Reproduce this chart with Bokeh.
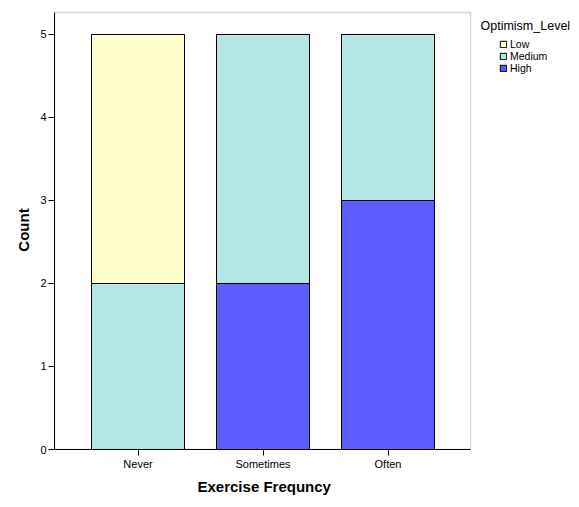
from bokeh.plotting import figure
from bokeh.models import (Range1d, FixedTicker, Legend, LegendItem, ColumnDataSource,
                          Label, BoxAnnotation, Title)
from bokeh.embed import file_html
from bokeh.resources import INLINE

# counts per exercise group, stacked bottom -> top: High, Medium, Low
categories = ["Never", "Sometimes", "Often"]
high = [0, 2, 3]
medium = [2, 3, 2]
low = [3, 0, 0]
y_ticks = [0, 1, 2, 3, 4, 5]

FONT = "Liberation Sans"
stack_order = ["High", "Medium", "Low"]
colors = ["#5c5cff", "#b4e6e6", "#ffffcc"]

positions = list(range(1, len(categories) + 1))
source = ColumnDataSource(data=dict(x=positions, High=high, Medium=medium, Low=low))

# the bar box is 416px wide (125px per category); the frame runs on to the page edge
# so the legend and its title can sit inside it without being clipped
x_lo, x_hi = 0.332, 3.66
y_top = 5.265
px_per_x = 125.0
px_per_y = 83.0

p = figure(
    frame_width=525, frame_height=439,
    min_border_left=54, min_border_top=10, min_border_bottom=20, min_border_right=0,
    x_range=Range1d(x_lo, x_lo + 525 / px_per_x),
    y_range=Range1d(0, y_top + 2 / px_per_y),
    output_backend="svg", toolbar_location=None,
)

# grey box round the bars (drawn underneath so the black axes sit on top)
p.add_layout(BoxAnnotation(left=x_lo, right=x_hi, bottom=0, top=y_top, level="underlay",
                           fill_alpha=0, line_color="#7a7a7a", line_width=1.5))

renderers = p.vbar_stack(stack_order, x="x", width=0.744, source=source,
                         fill_color=colors, line_color="black", line_width=1)

p.xgrid.grid_line_color = None
p.ygrid.grid_line_color = None
p.outline_line_color = None
p.background_fill_color = "white"
p.border_fill_color = "white"

p.xaxis.ticker = FixedTicker(ticks=positions)
p.xaxis.bounds = (x_lo, x_hi)
p.xaxis.major_label_overrides = {pos: name for pos, name in zip(positions, categories)}
p.yaxis.ticker = FixedTicker(ticks=y_ticks)
p.yaxis.bounds = (0, y_top)
for ax in (p.xaxis, p.yaxis):
    ax.axis_line_color = "black"
    ax.major_tick_line_color = "black"
    ax.major_tick_in = 0
    ax.major_tick_out = 6
    ax.minor_tick_line_color = None
    ax.major_label_text_font = FONT
    ax.major_label_text_font_size = "11px"
    ax.major_label_text_color = "black"
    ax.axis_label_text_font = FONT
    ax.axis_label_text_font_size = "15px"
    ax.axis_label_text_font_style = "bold"
    ax.axis_label_text_color = "black"
p.yaxis.axis_label = "Count"
p.xaxis.major_label_standoff = 2
p.yaxis.major_label_standoff = 2
p.yaxis.axis_label_standoff = 5

# x axis title centred under the bar box, not under the whole frame
p.add_layout(Title(text="Exercise Frequncy", align="left", offset=143, standoff=6,
                   text_font=FONT, text_font_size="15px", text_font_style="bold",
                   text_color="black"), "below")

# legend: Low on top, High at the bottom, indented under its title
items = [LegendItem(label=name, renderers=[r]) for name, r in zip(stack_order, renderers)]
legend = Legend(items=items[::-1], location=(445, 375),
                glyph_width=8, glyph_height=8, label_height=11, spacing=0,
                label_standoff=3, padding=0, margin=0,
                label_text_font=FONT, label_text_font_size="10.5px", label_text_color="black",
                border_line_color=None, background_fill_alpha=0)
p.add_layout(legend)

p.add_layout(Label(x=426, y=424, x_units="screen", y_units="screen",
                   text="Optimism_Level", text_font=FONT, text_font_size="12.5px",
                   text_color="black", text_baseline="alphabetic"))

open("out.html", "w").write(file_html(p, INLINE))
